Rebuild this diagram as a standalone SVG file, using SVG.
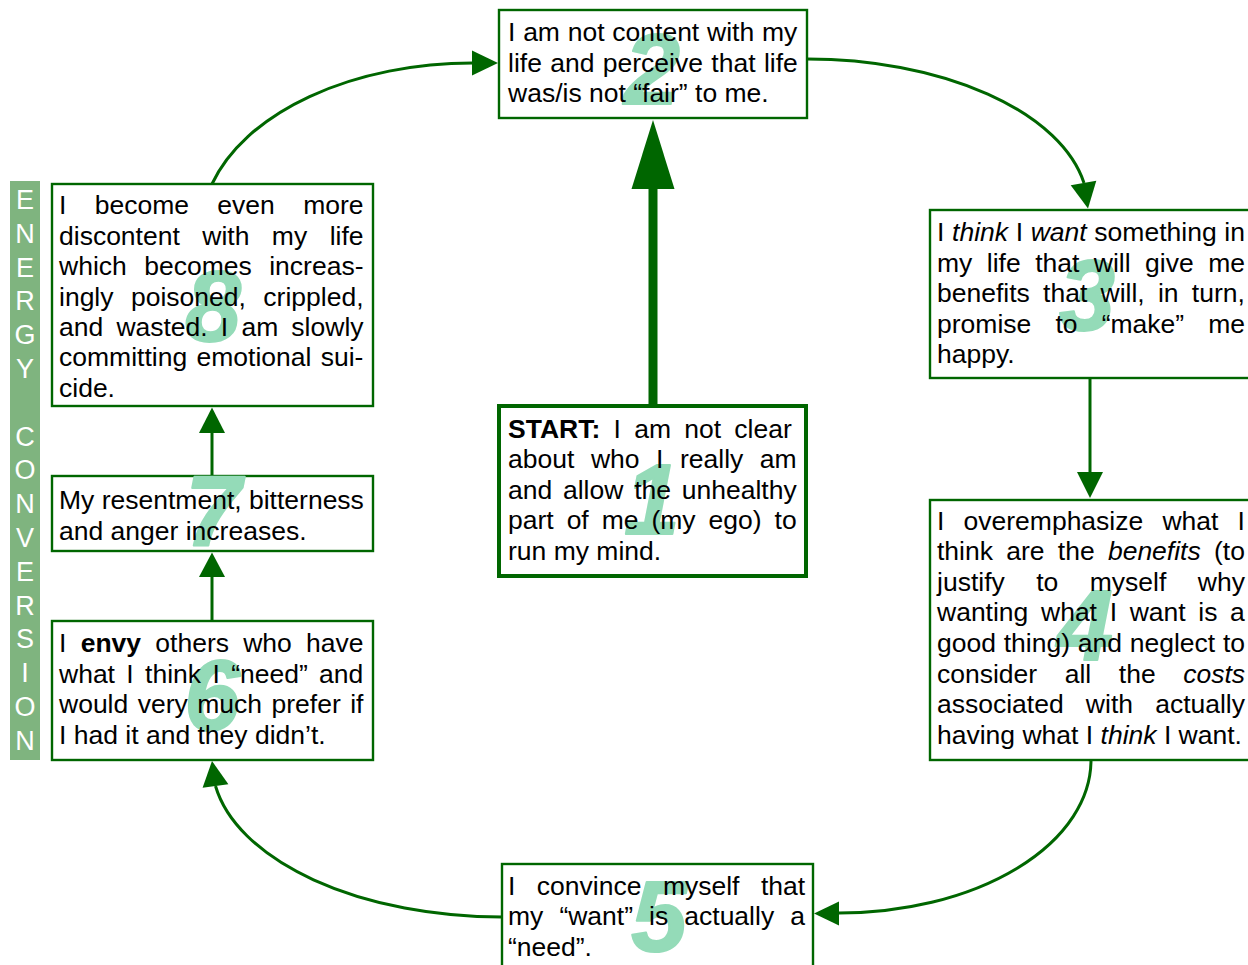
<svg xmlns="http://www.w3.org/2000/svg" width="1248" height="965" viewBox="0 0 1248 965">
<style>
.box{fill:#fff;stroke:#006600;stroke-width:2.4}
.box1{fill:#fff;stroke:#006600;stroke-width:4}
.t{font-family:"Liberation Sans",Arial,sans-serif;font-size:26.5px;fill:#000}
.num{font-family:"Liberation Sans",Arial,sans-serif;font-size:100px;font-style:italic;font-weight:bold;fill:#94dbb8;stroke:#94dbb8;stroke-width:2;stroke-linejoin:round;text-anchor:middle}
.en{font-family:"Liberation Sans",Arial,sans-serif;font-size:27px;fill:#fff;text-anchor:middle}
.ln{fill:none;stroke:#006600;stroke-width:3}
.hd{fill:#006600}
.i{font-style:italic}
.b{font-weight:bold}
</style>
<rect width="1248" height="965" fill="#fff"/>
<g id="energy-bar">
<rect x="10" y="181" width="30" height="579" fill="#7fb47f"/>
<text class="en" x="25" y="209">E</text>
<text class="en" x="25" y="242.8">N</text>
<text class="en" x="25" y="276.6">E</text>
<text class="en" x="25" y="310.4">R</text>
<text class="en" x="25" y="344.2">G</text>
<text class="en" x="25" y="378">Y</text>
<text class="en" x="25" y="445.6">C</text>
<text class="en" x="25" y="479.4">O</text>
<text class="en" x="25" y="513.2">N</text>
<text class="en" x="25" y="547">V</text>
<text class="en" x="25" y="580.8">E</text>
<text class="en" x="25" y="614.6">R</text>
<text class="en" x="25" y="648.4">S</text>
<text class="en" x="25" y="682.2">I</text>
<text class="en" x="25" y="716">O</text>
<text class="en" x="25" y="749.8">N</text>
</g>
<g id="connectors">
<path class="ln" d="M807,59 A281,150 0 0 1 1084,183"/>
<polygon class="hd" points="1088,208.5 1096.3,180.7 1070.7,185.3"/>
<path class="ln" d="M1090,379 L1090,473"/>
<polygon class="hd" points="1090,498 1077,472 1103,472"/>
<path class="ln" d="M1091,760 A252,153 0 0 1 839,913"/>
<polygon class="hd" points="814,913.5 839,901.5 839,925.5"/>
<path class="ln" d="M502,917 A290,155 0 0 1 215.5,786"/>
<polygon class="hd" points="212,761 228.4,784.2 202.6,787.8"/>
<path class="ln" d="M212,621 L212,576"/>
<polygon class="hd" points="212,552.5 199,577 225,577"/>
<path class="ln" d="M212,476 L212,432"/>
<polygon class="hd" points="212,407.5 199,433 225,433"/>
<path class="ln" d="M212,184 A271,167 0 0 1 473,63"/>
<polygon class="hd" points="498,63 472,50.5 472,75.5"/>
<path d="M653,404 L653,188" fill="none" stroke="#006600" stroke-width="9"/>
<polygon class="hd" points="653,120 631.5,189 674.5,189"/>
</g>
<g id="node1">
<rect class="box1" x="499" y="406" width="307" height="170"/>
<text class="num" x="652" y="534">1</text>
<text class="t" x="508" y="437.5" word-spacing="5.9"><tspan class="b">START:</tspan> I am not clear</text>
<text class="t" x="508" y="468" word-spacing="9.2">about who I really am</text>
<text class="t" x="508" y="498.5" word-spacing="3.4">and allow the unhealthy</text>
<text class="t" x="508" y="529" word-spacing="5.6">part of me (my ego) to</text>
<text class="t" x="508" y="559.5">run my mind.</text>
</g>
<g id="node2">
<rect class="box" x="499" y="10" width="308" height="108"/>
<text class="num" x="652" y="104">2</text>
<text class="t" x="508" y="41" word-spacing="0.4">I am not content with my</text>
<text class="t" x="508" y="71.6" word-spacing="1">life and perceive that life</text>
<text class="t" x="508" y="102.2">was/is not “fair” to me.</text>
</g>
<g id="node3">
<rect class="box" x="930" y="210" width="322" height="168"/>
<text class="num" x="1087" y="330">3</text>
<text class="t" x="937" y="241" word-spacing="0.3">I <tspan class="i">think</tspan> I <tspan class="i">want</tspan> something in</text>
<text class="t" x="937" y="271.5" word-spacing="7.1">my life that will give me</text>
<text class="t" x="937" y="302" word-spacing="5.9">benefits that will, in turn,</text>
<text class="t" x="937" y="332.5" word-spacing="16.8">promise to “make” me</text>
<text class="t" x="937" y="363">happy.</text>
</g>
<g id="node4">
<rect class="box" x="930" y="500" width="322" height="260"/>
<text class="num" x="1085" y="660">4</text>
<text class="t" x="937" y="529.5" word-spacing="11.8">I overemphasize what I</text>
<text class="t" x="937" y="560.1" word-spacing="5.9">think are the <tspan class="i">benefits</tspan> (to</text>
<text class="t" x="937" y="590.7" word-spacing="24.1">justify to myself why</text>
<text class="t" x="937" y="621.3" word-spacing="5.3">wanting what I want is a</text>
<text class="t" x="937" y="651.9" word-spacing="0.4">good thing) and neglect to</text>
<text class="t" x="937" y="682.5" word-spacing="20.2">consider all the <tspan class="i">costs</tspan></text>
<text class="t" x="937" y="713.1" word-spacing="14.8">associated with actually</text>
<text class="t" x="937" y="743.7">having what I <tspan class="i">think</tspan> I want.</text>
</g>
<g id="node5">
<rect class="box" x="502" y="864" width="311" height="110"/>
<text class="num" x="659" y="951">5</text>
<text class="t" x="508" y="894.5" word-spacing="14.1">I convince myself that</text>
<text class="t" x="508" y="925" word-spacing="8.7">my “want” is actually a</text>
<text class="t" x="508" y="955.5">“need”.</text>
</g>
<g id="node6">
<rect class="box" x="52" y="621" width="321" height="139"/>
<text class="num" x="212" y="730">6</text>
<text class="t" x="59" y="652" word-spacing="6.9">I <tspan class="b">envy</tspan> others who have</text>
<text class="t" x="59" y="682.5" word-spacing="4">what I think I “need” and</text>
<text class="t" x="59" y="713" word-spacing="2.1">would very much prefer if</text>
<text class="t" x="59" y="743.5">I had it and they didn’t.</text>
</g>
<g id="node7">
<rect class="box" x="52" y="476" width="321" height="75"/>
<text class="num" x="213" y="546">7</text>
<text class="t" x="59" y="509">My resentment, bitterness</text>
<text class="t" x="59" y="539.5">and anger increases.</text>
</g>
<g id="node8">
<rect class="box" x="52" y="184" width="321" height="222"/>
<text class="num" x="213" y="341">8</text>
<text class="t" x="59" y="214.3" word-spacing="21">I become even more</text>
<text class="t" x="59" y="244.7" word-spacing="15.1">discontent with my life</text>
<text class="t" x="59" y="275.1" word-spacing="10.1">which becomes increas-</text>
<text class="t" x="59" y="305.5" word-spacing="10.1">ingly poisoned, crippled,</text>
<text class="t" x="59" y="335.9" word-spacing="5.8">and wasted. I am slowly</text>
<text class="t" x="59" y="366.3" word-spacing="2">committing emotional sui-</text>
<text class="t" x="59" y="396.7">cide.</text>
</g>
</svg>
